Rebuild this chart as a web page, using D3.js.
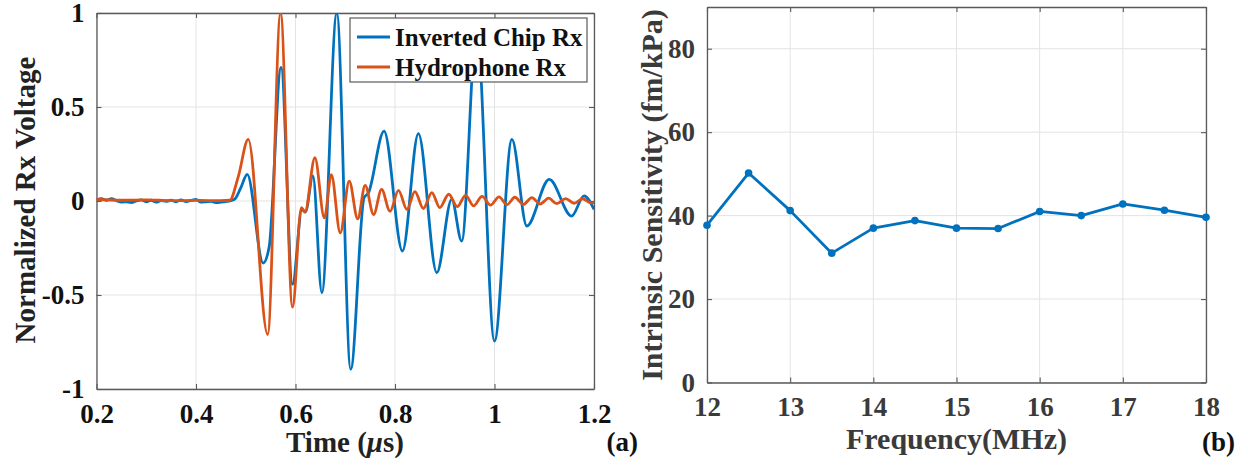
<!DOCTYPE html>
<html><head><meta charset="utf-8">
<script src="https://cdn.jsdelivr.net/npm/d3@7"></script>
<style>body{margin:0;background:#fff;} svg{display:block;}</style>
</head><body><svg id="c" width="1248" height="466"></svg>
<script>
// ---- data: panel (a) ----
const chipTime = [0.2,0.21,0.22,0.23,0.24,0.25,0.26,0.27,0.28,0.29,0.30,0.31,0.32,0.33,0.34,0.35,0.36,0.37,0.38,0.39,0.40,0.41,0.42,0.43,0.44,0.45,0.46,0.47,
  0.478,0.49,0.503,0.535,0.547,0.571,0.594,0.613,0.620,0.635,0.653,0.683,0.711,0.738,0.746,0.778,0.815,0.847,0.884,0.914,0.934,0.964,1.0,1.035,1.065,1.11,1.155,1.18,1.2];
const chipVolt = [0.005,0.012,0.004,0.012,0.002,-0.006,-0.004,-0.008,0.0,0.006,-0.004,0.004,-0.006,0.002,-0.002,0.004,-0.004,0.006,-0.003,0.003,0.008,-0.006,-0.004,-0.002,-0.008,-0.006,-0.003,0.002,
  0.01,0.07,0.142,-0.33,-0.245,0.71,-0.443,-0.045,-0.058,0.133,-0.488,1.0,-0.895,0.02,0.04,0.372,-0.266,0.358,-0.381,0.009,-0.213,0.92,-0.745,0.328,-0.133,0.115,-0.08,0.027,-0.044];
const hydroTime = [0.2,0.25,0.3,0.35,0.4,0.45,0.468,0.485,0.505,0.544,0.570,0.594,0.612,0.619,0.639,0.658,0.672,0.690,0.708,0.725,
  0.740,0.757,0.773,0.790,0.807,0.824,0.840,0.857,0.874,0.890,0.908,0.925,0.942,0.958,0.975,0.992,1.009,1.025,1.041,1.058,
  1.075,1.092,1.109,1.125,1.143,1.160,1.177,1.194,1.2];
const hydroVolt = [0.008,0.004,0.006,0.002,0.003,0.002,0.004,0.13,0.328,-0.71,1.0,-0.565,-0.035,-0.06,0.23,-0.09,0.14,-0.17,0.106,-0.095,
  0.083,-0.072,0.062,-0.055,0.057,-0.045,0.05,-0.04,0.045,-0.035,0.036,-0.03,0.03,-0.026,0.025,-0.022,0.022,-0.02,0.02,-0.018,
  0.018,-0.016,0.015,-0.014,0.013,-0.012,0.012,-0.01,-0.008];
const timeTicks = [0.2,0.4,0.6,0.8,1,1.2];
const timeTickLabels = ["0.2","0.4","0.6","0.8","1","1.2"];
const voltTicks = [-1,-0.5,0,0.5,1];
const voltTickLabels = ["-1","-0.5","0","0.5","1"];
const seriesNames = ["Inverted Chip Rx","Hydrophone Rx"];

// ---- data: panel (b) ----
const freqMHz = [12,12.5,13,13.5,14,14.5,15,15.5,16,16.5,17,17.5,18];
const sensitivity = [37.7,50.2,41.2,31.0,37.0,38.8,37.0,36.9,41.0,40.0,42.8,41.3,39.6];
const freqTicks = [12,13,14,15,16,17,18];
const sensTicks = [0,20,40,60,80];

const BLUE = "#0072BD", RED = "#D95319";
const FONT = "'Liberation Serif','Times New Roman',serif";
const svg = d3.select("#c");

function frame(g, x, y, xt, yt, xl, yl, txtColor, xLabelOffset) {
  const [x0,x1] = x.range(), [y0,y1] = y.range();
  g.append("g").selectAll("line").data(xt).join("line")
    .attr("x1", d=>x(d)).attr("x2", d=>x(d)).attr("y1", y0).attr("y2", y1)
    .attr("stroke", "#e3e3e3").attr("stroke-width", 1);
  g.append("g").selectAll("line").data(yt).join("line")
    .attr("y1", d=>y(d)).attr("y2", d=>y(d)).attr("x1", x0).attr("x2", x1)
    .attr("stroke", "#e3e3e3").attr("stroke-width", 1);
  const fmtX = (d,i)=>xl ? xl[i] : d, fmtY = (d,i)=>yl ? yl[i] : d;
  const ax = [
    [d3.axisBottom(x).tickValues(xt).tickFormat(fmtX), `translate(0,${y0})`],
    [d3.axisTop(x).tickValues(xt).tickFormat(""), `translate(0,${y1})`],
    [d3.axisLeft(y).tickValues(yt).tickFormat(fmtY), `translate(${x0},0)`],
    [d3.axisRight(y).tickValues(yt).tickFormat(""), `translate(${x1},0)`]
  ];
  ax.forEach(([a, tr], k) => {
    a.tickSizeInner(-5).tickSizeOuter(0).tickPadding(12);
    const ag = g.append("g").attr("transform", tr).call(a);
    ag.select(".domain").attr("stroke", "#5a5a5a").attr("stroke-width", 1.3);
    ag.selectAll(".tick line").attr("stroke", "#5a5a5a").attr("stroke-width", 1.1);
    ag.selectAll("text").attr("font-family", FONT).attr("font-weight", "bold")
      .attr("font-size", 27).attr("fill", txtColor);
    if (k === 0) ag.selectAll("text").attr("dy", null).attr("y", xLabelOffset);
  });
}

// ---- panel (a) ----
const xA = d3.scaleLinear([0.2,1.2],[96.5,594]);
const yA = d3.scaleLinear([-1,1],[389,13]);
const gA = svg.append("g");
frame(gA, xA, yA, timeTicks, voltTicks, timeTickLabels, voltTickLabels, "#111", 34);

svg.append("clipPath").attr("id","clipA").append("rect")
  .attr("x", 96.5).attr("y", 13).attr("width", 594-96.5).attr("height", 389-13);
const lineA = d3.line().x(d=>xA(d[0])).y(d=>yA(d[1])).curve(d3.curveMonotoneX);
const chip = d3.zip(chipTime, chipVolt), hydro = d3.zip(hydroTime, hydroVolt);
const plotA = gA.append("g").attr("clip-path","url(#clipA)");
plotA.append("path").datum(chip).attr("d", lineA).attr("fill","none").attr("stroke",BLUE).attr("stroke-width",2.8).attr("stroke-linejoin","round");
plotA.append("path").datum(hydro).attr("d", lineA).attr("fill","none").attr("stroke",RED).attr("stroke-width",2.8).attr("stroke-linejoin","round");

// legend
const leg = gA.append("g");
leg.append("rect").attr("x",350).attr("y",18).attr("width",237).attr("height",64)
  .attr("fill","#fff").attr("stroke","#5a5a5a").attr("stroke-width",1.2);
[BLUE, RED].forEach((c,i)=>{
  const cy = 37 + i*30;
  leg.append("line").attr("x1",357).attr("x2",390).attr("y1",cy).attr("y2",cy).attr("stroke",c).attr("stroke-width",2.8);
  leg.append("text").attr("x",395).attr("y",cy+8.5).text(seriesNames[i])
    .attr("font-family",FONT).attr("font-weight","bold").attr("font-size",25).attr("fill","#111");
});

// axis titles (a)
svg.append("text").attr("transform","translate(35,200) rotate(-90)").attr("text-anchor","middle")
  .attr("font-family",FONT).attr("font-weight","bold").attr("font-size",29).attr("fill","#222")
  .text("Normalized Rx Voltage");
const tA = svg.append("text").attr("x",345).attr("y",452).attr("text-anchor","middle")
  .attr("font-family",FONT).attr("font-weight","bold").attr("font-size",29).attr("fill","#222");
tA.append("tspan").text("Time (");
tA.append("tspan").attr("font-style","italic").text("\u03bc");
tA.append("tspan").text("s)");
svg.append("text").attr("x",638).attr("y",451).attr("text-anchor","end")
  .attr("font-family",FONT).attr("font-weight","bold").attr("font-size",27).attr("fill","#111").text("(a)");

// ---- panel (b) ----
const xB = d3.scaleLinear([12,18],[707,1206]);
const yB = d3.scaleLinear([0,90],[382.5,7]);
const gB = svg.append("g");
frame(gB, xB, yB, freqTicks, sensTicks, null, null, "#3a3a3a", 33);
const sens = d3.zip(freqMHz, sensitivity);
gB.append("path").datum(sens).attr("d", d3.line().x(d=>xB(d[0])).y(d=>yB(d[1])))
  .attr("fill","none").attr("stroke",BLUE).attr("stroke-width",2.8).attr("stroke-linejoin","round");
gB.selectAll("circle").data(sens).join("circle")
  .attr("cx", d=>xB(d[0])).attr("cy", d=>yB(d[1])).attr("r", 3.8).attr("fill", BLUE);

svg.append("text").attr("transform","translate(662,195) rotate(-90)").attr("text-anchor","middle")
  .attr("font-family",FONT).attr("font-weight","bold").attr("font-size",30).attr("fill","#3a3a3a")
  .text("Intrinsic Sensitivity (fm/kPa)");
svg.append("text").attr("x",956.5).attr("y",449).attr("text-anchor","middle")
  .attr("font-family",FONT).attr("font-weight","bold").attr("font-size",30).attr("fill","#3a3a3a")
  .text("Frequency(MHz)");
svg.append("text").attr("x",1235).attr("y",451).attr("text-anchor","end")
  .attr("font-family",FONT).attr("font-weight","bold").attr("font-size",27).attr("fill","#111").text("(b)");
</script></body></html>
